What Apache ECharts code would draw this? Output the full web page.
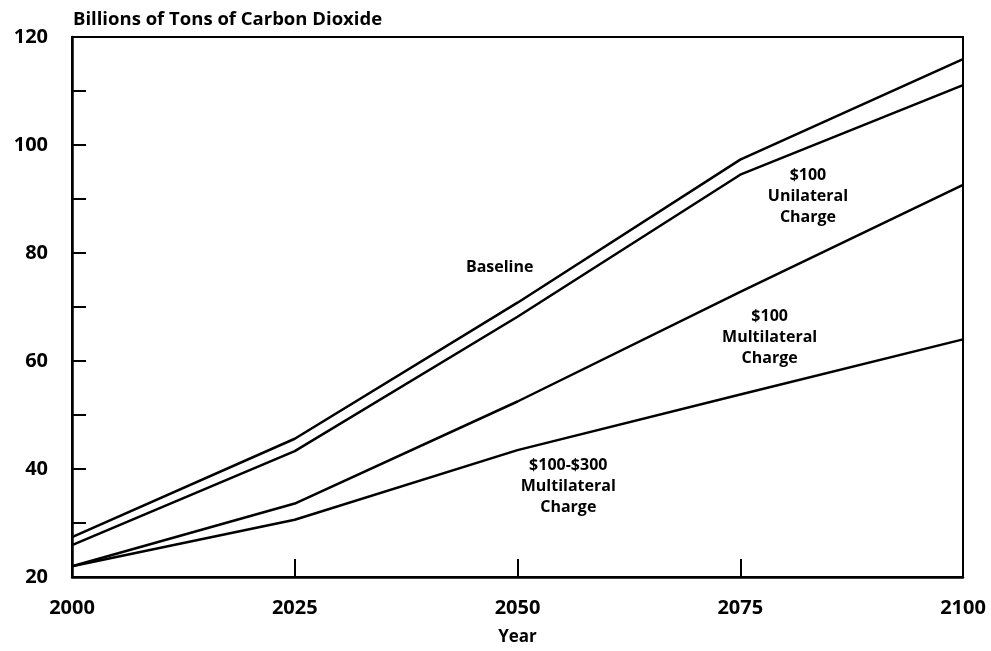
<!DOCTYPE html>
<html>
<head>
<meta charset="utf-8">
<script src="https://cdn.jsdelivr.net/npm/echarts@6/dist/echarts.min.js"></script>
<style>html,body{margin:0;padding:0;background:#fff;}#c{width:991px;height:651px;}</style>
</head>
<body>
<div id="c"></div>
<script>
var years = [2000, 2025, 2050, 2075, 2100];
var baseline = [27.4, 45.6, 70.8, 97.3, 115.9];
var unilateral100 = [25.9, 43.3, 68.2, 94.5, 111.1];
var multilateral100 = [22.0, 33.6, 52.5, 72.8, 92.6];
var multilateral100_300 = [22.0, 30.6, 43.5, 53.8, 64.0];
var yTicks = [20, 40, 60, 80, 100, 120];
var xTicks = [2000, 2025, 2050, 2075, 2100];

var seriesNames = ['Baseline', '$100 Unilateral Charge', '$100 Multilateral Charge', '$100-$300 Multilateral Charge'];
var seriesValues = [baseline, unilateral100, multilateral100, multilateral100_300];
var labelTexts = ['Baseline', '$100\nUnilateral\nCharge', '$100\nMultilateral\nCharge', '$100-$300\nMultilateral\nCharge'];
var labelAnchors = [[2048.0, 77.3], [2082.6, 90.4], [2078.3, 64.4], [2055.7, 36.8]];

var FONT = '"Open Sans", "Liberation Sans", sans-serif';

function pairs(vals) {
  return years.map(function (y, i) { return [y, vals[i]]; });
}

var series = seriesValues.map(function (vals, i) {
  return {
    name: seriesNames[i],
    type: 'line',
    data: pairs(vals),
    symbol: 'none',
    lineStyle: { color: '#000', width: 2.5 },
    silent: true,
    markPoint: {
      symbol: 'circle',
      symbolSize: 0,
      silent: true,
      data: [{
        coord: labelAnchors[i],
        label: {
          show: true,
          position: 'inside',
          formatter: labelTexts[i],
          color: '#000',
          fontFamily: FONT,
          fontWeight: 'bold',
          fontSize: 16,
          lineHeight: 21,
          align: 'center'
        }
      }]
    }
  };
});

var chart = echarts.init(document.getElementById('c'), null, { renderer: 'canvas' });
chart.setOption({
  backgroundColor: '#fff',
  animation: false,
  title: {
    text: 'Billions of Tons of Carbon Dioxide',
    left: 68, top: 5,
    textStyle: { fontFamily: FONT, fontWeight: 'bold', fontSize: 18.5, color: '#000' }
  },
  grid: {
    left: 72, right: 28, top: 37, bottom: 73,
    show: true, borderColor: '#000', borderWidth: 2, backgroundColor: 'transparent'
  },
  xAxis: {
    type: 'value',
    min: xTicks[0], max: xTicks[xTicks.length - 1], interval: 25,
    name: 'Year',
    nameLocation: 'middle',
    nameGap: 52,
    nameTextStyle: { fontFamily: FONT, fontWeight: 'bold', fontSize: 17, color: '#000' },
    axisLine: { show: true, lineStyle: { color: '#000', width: 2.5 } },
    axisTick: { show: true, inside: true, length: 18, lineStyle: { color: '#000', width: 2 } },
    axisLabel: {
      margin: 21, fontFamily: FONT, fontWeight: 'bold', fontSize: 20, color: '#000',
      formatter: function (v) { return String(v); }
    },
    splitLine: { show: false }
  },
  yAxis: {
    type: 'value',
    min: yTicks[0], max: yTicks[yTicks.length - 1], interval: 20,
    axisLine: { show: true, lineStyle: { color: '#000', width: 2.5 } },
    axisTick: { show: true, inside: true, length: 14, lineStyle: { color: '#000', width: 2 } },
    minorTick: { show: true, splitNumber: 2, length: 14, lineStyle: { color: '#000', width: 2 } },
    axisLabel: {
      margin: 24, fontFamily: FONT, fontWeight: 'bold', fontSize: 20, color: '#000',
      formatter: function (v) { return String(v); }
    },
    splitLine: { show: false }
  },
  series: series
});
</script>
</body>
</html>
